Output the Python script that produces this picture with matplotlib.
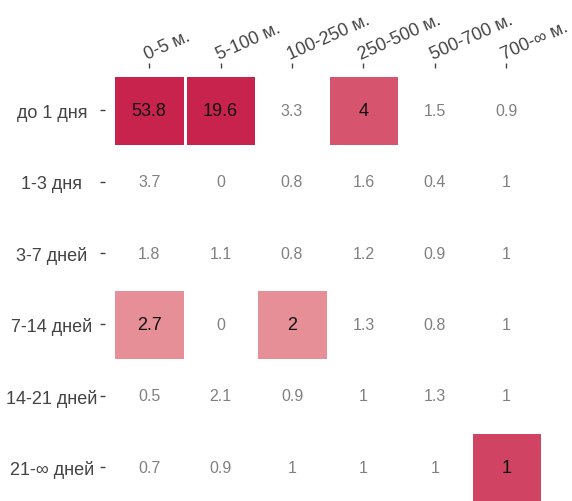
import matplotlib
matplotlib.use("Agg")
import matplotlib.pyplot as plt
from matplotlib.colors import LinearSegmentedColormap
from matplotlib.transforms import ScaledTranslation
import numpy as np

plt.rcParams['font.family'] = ['Liberation Sans', 'DejaVu Sans']

# распределение: строки - давность, столбцы - расстояние
rows = ['до 1 дня', '1-3 дня', '3-7 дней', '7-14 дней', '14-21 дней', '21-∞ дней']
cols = ['0-5 м.', '5-100 м.', '100-250 м.', '250-500 м.', '500-700 м.', '700-∞ м.']

values = [
    [53.8, 19.6, 3.3, 4, 1.5, 0.9],
    [3.7, 0, 0.8, 1.6, 0.4, 1],
    [1.8, 1.1, 0.8, 1.2, 0.9, 1],
    [2.7, 0, 2, 1.3, 0.8, 1],
    [0.5, 2.1, 0.9, 1, 1.3, 1],
    [0.7, 0.9, 1, 1, 1, 1],
]

# степень выделения ячейки (nan - без подсветки)
highlight = [
    [1.0, 1.0, np.nan, 0.55, np.nan, np.nan],
    [np.nan] * 6,
    [np.nan] * 6,
    [0.0, np.nan, 0.0, np.nan, np.nan, np.nan],
    [np.nan] * 6,
    [np.nan, np.nan, np.nan, np.nan, np.nan, 0.7],
]

cmap = LinearSegmentedColormap.from_list('hl', ['#E68F96', '#C8234D'])

fig = plt.figure(figsize=(5.72, 5.02), dpi=100)
ax = fig.add_axes([113.5 / 572, (502 - 504) / 502, 428.5 / 572, 428.5 / 502])

hl = np.ma.masked_invalid(np.array(highlight, dtype=float))
ax.pcolormesh(np.arange(len(cols) + 1) - 0.5, np.arange(len(rows) + 1) - 0.5, hl,
              cmap=cmap, vmin=0, vmax=1, edgecolor='white', linewidth=1)

for i in range(len(rows)):
    for j in range(len(cols)):
        v = values[i][j]
        txt = f'{v:g}'
        if np.isnan(highlight[i][j]):
            ax.text(j, i, txt, ha='center', va='center', fontsize=11.5, color='#808080')
        else:
            ax.text(j, i, txt, ha='center', va='center', fontsize=13, color='#111111')

ax.set_xlim(-0.5, len(cols) - 0.5)
ax.set_ylim(len(rows) - 0.5, -0.5)

for s in ax.spines.values():
    s.set_visible(False)
ax.spines['left'].set_position(('outward', 6))
ax.spines['top'].set_position(('outward', 5))

ax.xaxis.tick_top()
ax.tick_params(axis='x', length=3.5, width=1, color='#444444', pad=2.7)
ax.tick_params(axis='y', length=3.5, width=1, color='#444444', pad=34.8)

ax.set_xticks(range(len(cols)))
ax.set_yticks(range(len(rows)))
ax.set_xticklabels(cols)
ax.set_yticklabels(rows)

shift = ScaledTranslation(-1.5 / 72, 0, fig.dpi_scale_trans)
for lab in ax.get_xticklabels():
    lab.set_rotation(24)
    lab.set_rotation_mode('anchor')
    lab.set_ha('left')
    lab.set_va('baseline')
    lab.set_fontsize(13)
    lab.set_color('#444444')
    lab.set_transform(lab.get_transform() + shift)
for lab in ax.get_yticklabels():
    lab.set_ha('center')
    lab.set_fontsize(13)
    lab.set_color('#444444')

fig.savefig('out.png', dpi=100)
